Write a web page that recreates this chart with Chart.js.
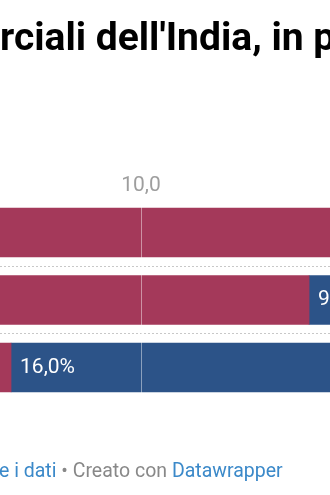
<!DOCTYPE html>
<html>
<head>
  <meta charset="UTF-8">
  <title>Partner commerciali dell'India</title>
  <script src="https://cdn.jsdelivr.net/npm/chart.js"></script>
  <style>
    body {
      margin: 0;
      width: 330px;
      height: 495px;
      overflow: hidden;
      position: relative;
      background: #fff;
      font-family: Roboto, Arial, sans-serif;
    }
    #chart {
      position: absolute;
      left: 0;
      top: 0;
    }
    .title {
      position: absolute;
      left: 0;
      top: 18px;
      font-size: 39px;
      line-height: 39px;
      font-weight: bold;
      color: #000;
      white-space: nowrap;
      z-index: 2;
    }
    .footer {
      position: absolute;
      left: -1px;
      top: 461px;
      font-size: 19.5px;
      line-height: 19.5px;
      color: #888;
      white-space: nowrap;
      z-index: 2;
    }
    .footer span { color: #3b89c9; }
  </style>
</head>
<body>
<div class="title">rciali dell'India, in p</div>

<canvas id="chart" width="330" height="495"></canvas>

<div class="footer"><span>e i dati</span> • Creato con <span>Datawrapper</span></div>

<script>
  // Rows (names are cut off on the left of the picture)
  const categories = ['', '', ''];
  // First (red) and second (blue) segment of each stacked bar
  const redValues = [19.5, 17.15, 4.47];
  const blueValues = [null, 9.4, 16.0];
  // Axis ticks
  const xTicks = [0, 10, 20];

  const fmt = v => v.toFixed(1).replace('.', ',');

  // Value labels at the start of each segment, like Datawrapper does
  const segmentLabels = {
    id: 'segmentLabels',
    afterDatasetsDraw(chart) {
      const ctx = chart.ctx;
      ctx.save();
      ctx.font = '21px Roboto';
      ctx.fillStyle = '#fff';
      ctx.textAlign = 'left';
      ctx.textBaseline = 'middle';
      chart.data.datasets.forEach((ds, di) => {
        const meta = chart.getDatasetMeta(di);
        meta.data.forEach((bar, i) => {
          const v = ds.data[i];
          if (v == null) return;
          const left = Math.min(bar.base, bar.x);
          ctx.fillText(fmt(v) + '%', left + 9, bar.y);
        });
      });
      ctx.restore();
    }
  };

  new Chart(document.getElementById('chart'), {
    type: 'bar',
    data: {
      labels: categories,
      datasets: [
        { data: redValues, backgroundColor: '#a4395a', borderWidth: 0, barThickness: 49 },
        { data: blueValues, backgroundColor: '#2c5388', borderWidth: 0, barThickness: 49 }
      ]
    },
    options: {
      indexAxis: 'y',
      responsive: false,
      animation: false,
      devicePixelRatio: 1,
      layout: { padding: { top: 173.55, bottom: 93.75, left: 0, right: 0 } },
      plugins: {
        legend: { display: false },
        tooltip: { enabled: false }
      },
      scales: {
        x: {
          position: 'top',
          stacked: true,
          min: 4,
          max: 18.04,
          afterBuildTicks: scale => {
            scale.ticks = xTicks
              .filter(v => v >= scale.min && v <= scale.max)
              .map(v => ({ value: v }));
          },
          grid: {
            color: 'rgba(255,255,255,0.45)',
            drawTicks: false,
            z: 1
          },
          border: { display: false },
          ticks: {
            padding: 0,
            color: '#9e9e9e',
            font: { family: 'Roboto', size: 21 },
            callback: v => fmt(v)
          }
        },
        y: {
          stacked: true,
          ticks: { display: false },
          grid: {
            offset: true,
            drawTicks: false,
            lineWidth: 1,
            color: c => (c.index === 1 || c.index === 2) ? '#c8c8c8' : 'rgba(0,0,0,0)'
          },
          border: { display: false, dash: [2, 2] }
        }
      }
    },
    plugins: [segmentLabels]
  });
</script>
</body>
</html>
